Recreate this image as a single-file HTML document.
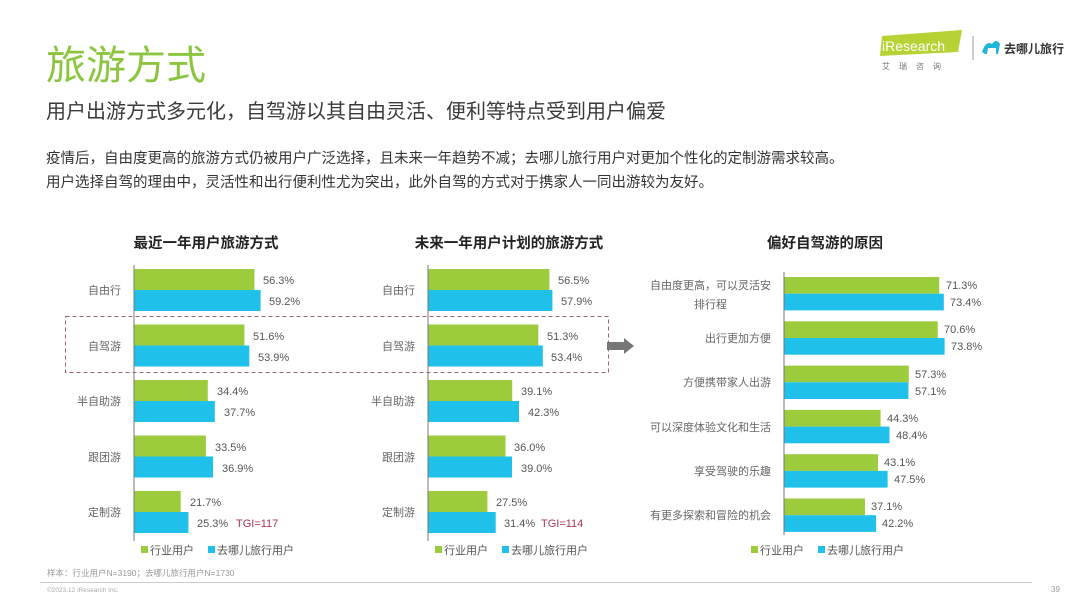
<!DOCTYPE html>
<html><head><meta charset="utf-8"><style>
html,body{margin:0;padding:0;background:#fff;}
svg{display:block;font-family:"Liberation Sans","Noto Sans CJK SC",sans-serif;}
</style></head><body>
<svg width="1080" height="608" viewBox="0 0 1080 608" xmlns="http://www.w3.org/2000/svg">
<rect width="1080" height="608" fill="#fff"/>
<text x="46" y="79" font-size="40" fill="#8cc63f">旅游方式</text>
<text x="46" y="118" font-size="20" fill="#3a3a3a">用户出游方式多元化，自驾游以其自由灵活、便利等特点受到用户偏爱</text>
<text x="46" y="163" font-size="14.5" fill="#333">疫情后，自由度更高的旅游方式仍被用户广泛选择，且未来一年趋势不减；去哪儿旅行用户对更加个性化的定制游需求较高。</text>
<text x="46" y="187" font-size="14.5" fill="#333">用户选择自驾的理由中，灵活性和出行便利性尤为突出，此外自驾的方式对于携家人一同出游较为友好。</text>
<!-- logo -->
<polygon points="882,36 962,30 958,52 880,56" fill="#b5d334"/>
<text x="882" y="51" font-size="14" fill="#fff">iResearch</text>
<text x="882" y="69" font-size="8" fill="#777" letter-spacing="9">艾瑞咨询</text>
<line x1="973" y1="36" x2="973" y2="60" stroke="#999" stroke-width="1"/>
<path d="M982 52 q4-12 10-8 q4-6 8 0 l-2 10 h-2 l0-6 h-8 l-1 6 h-2z" fill="#1fb6d8"/>
<text x="1004" y="53" font-size="12" font-weight="bold" fill="#333">去哪儿旅行</text>
<!-- chart titles -->
<g font-size="14.5" font-weight="bold" fill="#222" text-anchor="middle">
<text x="206" y="248">最近一年用户旅游方式</text>
<text x="509" y="248">未来一年用户计划的旅游方式</text>
<text x="825" y="248">偏好自驾游的原因</text>
</g>
<!-- dashed box -->
<rect x="65.5" y="316.5" width="543" height="56" fill="none" stroke="#a06070" stroke-width="1" stroke-dasharray="4,3"/>
<polygon points="607,342 624,342 624,338 634,346 624,354 624,350 607,350" fill="#777"/>
<!-- chart 1 -->
<g font-size="11" fill="#555">
<line x1="134" y1="265" x2="134" y2="541" stroke="#777"/>
<g text-anchor="end" fill="#666">
<text x="121" y="294">自由行</text><text x="121" y="350">自驾游</text><text x="121" y="405">半自助游</text><text x="121" y="461">跟团游</text><text x="121" y="516">定制游</text>
</g>
<rect x="134.5" y="269" width="119.9" height="21" fill="#9ccb3b"/><rect x="134.5" y="290" width="126.1" height="21" fill="#1fc0ea"/>
<text x="263" y="284">56.3%</text><text x="269" y="305">59.2%</text>
<rect x="134.5" y="324.5" width="109.9" height="21" fill="#9ccb3b"/><rect x="134.5" y="345.5" width="114.8" height="21" fill="#1fc0ea"/>
<text x="253" y="340">51.6%</text><text x="258" y="361">53.9%</text>
<rect x="134.5" y="380" width="73.3" height="21" fill="#9ccb3b"/><rect x="134.5" y="401" width="80.3" height="21" fill="#1fc0ea"/>
<text x="217" y="395">34.4%</text><text x="224" y="416">37.7%</text>
<rect x="134.5" y="435.5" width="71.4" height="21" fill="#9ccb3b"/><rect x="134.5" y="456.5" width="78.6" height="21" fill="#1fc0ea"/>
<text x="215" y="451">33.5%</text><text x="222" y="472">36.9%</text>
<rect x="134.5" y="491" width="46.2" height="21" fill="#9ccb3b"/><rect x="134.5" y="512" width="53.9" height="21" fill="#1fc0ea"/>
<text x="190" y="506">21.7%</text><text x="197" y="527">25.3%</text>
<text x="236" y="527" fill="#a8354e">TGI=117</text>
<rect x="141" y="546" width="7" height="7" fill="#9ccb3b"/><text x="150" y="554" fill="#555">行业用户</text>
<rect x="208" y="546" width="7" height="7" fill="#1fc0ea"/><text x="217" y="554" fill="#555">去哪儿旅行用户</text>
</g>
<!-- chart 2 -->
<g font-size="11" fill="#555">
<line x1="428" y1="265" x2="428" y2="541" stroke="#777"/>
<g text-anchor="end" fill="#666">
<text x="415" y="294">自由行</text><text x="415" y="350">自驾游</text><text x="415" y="405">半自助游</text><text x="415" y="461">跟团游</text><text x="415" y="516">定制游</text>
</g>
<rect x="428.5" y="269" width="120.9" height="21" fill="#9ccb3b"/><rect x="428.5" y="290" width="123.9" height="21" fill="#1fc0ea"/>
<text x="558" y="284">56.5%</text><text x="561" y="305">57.9%</text>
<rect x="428.5" y="324.5" width="109.8" height="21" fill="#9ccb3b"/><rect x="428.5" y="345.5" width="114.3" height="21" fill="#1fc0ea"/>
<text x="547" y="340">51.3%</text><text x="551" y="361">53.4%</text>
<rect x="428.5" y="380" width="83.7" height="21" fill="#9ccb3b"/><rect x="428.5" y="401" width="90.5" height="21" fill="#1fc0ea"/>
<text x="521" y="395">39.1%</text><text x="528" y="416">42.3%</text>
<rect x="428.5" y="435.5" width="77" height="21" fill="#9ccb3b"/><rect x="428.5" y="456.5" width="83.5" height="21" fill="#1fc0ea"/>
<text x="514" y="451">36.0%</text><text x="521" y="472">39.0%</text>
<rect x="428.5" y="491" width="58.9" height="21" fill="#9ccb3b"/><rect x="428.5" y="512" width="67.2" height="21" fill="#1fc0ea"/>
<text x="496" y="506">27.5%</text><text x="504" y="527">31.4%</text>
<text x="541" y="527" fill="#a8354e">TGI=114</text>
<rect x="435" y="546" width="7" height="7" fill="#9ccb3b"/><text x="444" y="554" fill="#555">行业用户</text>
<rect x="502" y="546" width="7" height="7" fill="#1fc0ea"/><text x="511" y="554" fill="#555">去哪儿旅行用户</text>
</g>
<!-- chart 3 -->
<g font-size="11" fill="#555">
<line x1="784" y1="272" x2="784" y2="535" stroke="#777"/>
<g text-anchor="end" fill="#666">
<text x="771" y="289">自由度更高，可以灵活安</text><text x="727" y="308">排行程</text>
<text x="771" y="342">出行更加方便</text>
<text x="771" y="386">方便携带家人出游</text>
<text x="771" y="431">可以深度体验文化和生活</text>
<text x="771" y="475">享受驾驶的乐趣</text>
<text x="771" y="519">有更多探索和冒险的机会</text>
</g>
<rect x="784.5" y="277" width="154.7" height="16.7" fill="#9ccb3b"/><rect x="784.5" y="293.7" width="159.3" height="16.7" fill="#1fc0ea"/>
<text x="946" y="289">71.3%</text><text x="950" y="306">73.4%</text>
<rect x="784.5" y="321.3" width="153.2" height="16.7" fill="#9ccb3b"/><rect x="784.5" y="338" width="160.1" height="16.7" fill="#1fc0ea"/>
<text x="944" y="333">70.6%</text><text x="951" y="350">73.8%</text>
<rect x="784.5" y="365.6" width="124.3" height="16.7" fill="#9ccb3b"/><rect x="784.5" y="382.3" width="123.9" height="16.7" fill="#1fc0ea"/>
<text x="915" y="378">57.3%</text><text x="915" y="395">57.1%</text>
<rect x="784.5" y="409.9" width="96.1" height="16.7" fill="#9ccb3b"/><rect x="784.5" y="426.6" width="105" height="16.7" fill="#1fc0ea"/>
<text x="887" y="422">44.3%</text><text x="896" y="439">48.4%</text>
<rect x="784.5" y="454.2" width="93.5" height="16.7" fill="#9ccb3b"/><rect x="784.5" y="470.9" width="103.1" height="16.7" fill="#1fc0ea"/>
<text x="884" y="466">43.1%</text><text x="894" y="483">47.5%</text>
<rect x="784.5" y="498.5" width="80.5" height="16.7" fill="#9ccb3b"/><rect x="784.5" y="515.2" width="91.6" height="16.7" fill="#1fc0ea"/>
<text x="871" y="510">37.1%</text><text x="882" y="527">42.2%</text>
<rect x="751" y="546" width="7" height="7" fill="#9ccb3b"/><text x="760" y="554" fill="#555">行业用户</text>
<rect x="818" y="546" width="7" height="7" fill="#1fc0ea"/><text x="827" y="554" fill="#555">去哪儿旅行用户</text>
</g>
<!-- footer -->
<text x="47" y="576" font-size="8.5" fill="#999">样本：行业用户N=3190；去哪儿旅行用户N=1730</text>
<line x1="40" y1="582.5" x2="1032" y2="582.5" stroke="#ccc" stroke-width="1"/>
<text x="47" y="592" font-size="6.5" fill="#aaa">©2023.12 iResearch Inc.</text>
<text x="1051" y="592" font-size="8" fill="#999">39</text>
</svg>
</body></html>
